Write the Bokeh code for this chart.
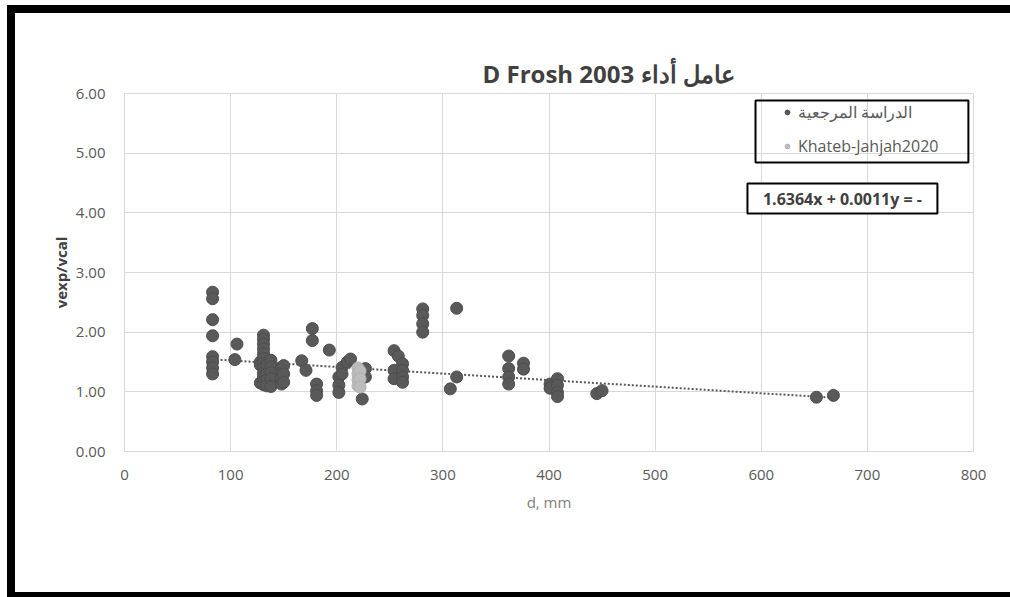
from bokeh.plotting import figure
from bokeh.models import (BoxAnnotation, Label, NumeralTickFormatter,
                          SingleIntervalTicker, Range1d, Title)
from bokeh.embed import file_html
from bokeh.resources import INLINE

# Reference study (dark points): diameter d [mm] and ratio vexp/vcal
ref_d = [83, 83, 83, 83, 83, 83, 83, 83,
         104, 106,
         128, 128, 128,
         131, 131, 131, 131, 131, 131, 131, 131, 131, 131, 131, 131,
         134, 134, 134, 134,
         138, 138, 138, 138, 138,
         148, 148, 148, 148,
         150, 150, 150,
         167, 171,
         177, 177,
         181, 181, 181,
         193,
         202, 202, 202,
         205, 205, 210, 213,
         224, 227, 227,
         254, 254, 254, 258,
         262, 262, 262, 262,
         281, 281, 281, 281,
         307, 313, 313,
         362, 362, 362, 362,
         376, 376,
         401, 401,
         408, 408, 408, 408,
         445, 450,
         652, 668]
ref_ratio = [2.67, 2.56, 2.21, 1.94, 1.59, 1.50, 1.40, 1.30,
             1.54, 1.80,
             1.50, 1.45, 1.15,
             1.95, 1.88, 1.80, 1.72, 1.64, 1.56, 1.48, 1.40, 1.32, 1.25, 1.18, 1.12,
             1.45, 1.30, 1.20, 1.10,
             1.53, 1.42, 1.32, 1.22, 1.09,
             1.41, 1.30, 1.22, 1.13,
             1.44, 1.30, 1.16,
             1.52, 1.36,
             2.06, 1.86,
             1.13, 1.02, 0.94,
             1.70,
             1.25, 1.11, 0.99,
             1.41, 1.30, 1.50, 1.55,
             0.88, 1.39, 1.25,
             1.69, 1.36, 1.22, 1.60,
             1.47, 1.36, 1.25, 1.16,
             2.39, 2.28, 2.14, 2.00,
             1.05, 2.40, 1.25,
             1.60, 1.39, 1.25, 1.13,
             1.48, 1.38,
             1.13, 1.06,
             1.22, 1.11, 0.99, 0.92,
             0.97, 1.02,
             0.91, 0.94]

# Khateb-Jahjah 2020 (light points)
kj_d = [220, 220, 220, 220, 222, 222, 222]
kj_ratio = [1.40, 1.30, 1.20, 1.10, 1.35, 1.22, 1.08]

# Linear trend of the reference study: y = -0.0011 x + 1.6364
trend_slope = -0.0011
trend_intercept = 1.6364

title_text = "D Frosh 2003 عامل أداء"
ref_label = "الدراسة المرجعية"
kj_label = "Khateb-Jahjah2020"
equation_text = "1.6364x + 0.0011y = -"

DARK = "#595959"
LIGHT = "#bdbdbd"
GRID = "#d9d9d9"
FONT = "Open Sans"

p = figure(width=995, height=579,
           x_range=Range1d(0, 800), y_range=Range1d(0, 6),
           output_backend="svg", toolbar_location=None,
           min_border_left=109, min_border_right=45,
           min_border_top=80, min_border_bottom=157,
           background_fill_color="white", border_fill_color="white")
p.outline_line_color = GRID

# Thick black page edges on the top, left and bottom sides, outside the canvas
p.styles = {"box-sizing": "content-box",
            "margin-left": "7px", "margin-top": "5px",
            "border-top": "8px solid black",
            "border-left": "8px solid black",
            "border-bottom": "8px solid black"}

# Title, shifted toward the right like a spreadsheet chart title
p.add_layout(Title(text=title_text, align="left", offset=358, standoff=8,
                   text_font=FONT, text_font_size="24px",
                   text_font_style="bold", text_color="#404040"), "above")

# Axes
p.xaxis.ticker = SingleIntervalTicker(interval=100)
p.yaxis.ticker = SingleIntervalTicker(interval=1)
p.yaxis.formatter = NumeralTickFormatter(format="0.00")
for ax in (p.xaxis[0], p.yaxis[0]):
    ax.axis_line_color = GRID
    ax.major_tick_line_color = None
    ax.minor_tick_line_color = None
    ax.major_tick_out = 0
    ax.major_label_text_font = FONT
    ax.major_label_text_font_size = "15px"
    ax.major_label_text_color = DARK
p.xaxis.major_label_standoff = 14
p.yaxis.major_label_standoff = 15
p.xaxis.axis_label = "d, mm"
p.xaxis.axis_label_text_font = FONT
p.xaxis.axis_label_text_font_size = "15px"
p.xaxis.axis_label_text_font_style = "normal"
p.xaxis.axis_label_text_color = "#7f7f7f"
p.xaxis.axis_label_standoff = 9
p.yaxis.axis_label = "vexp/vcal"
p.yaxis.axis_label_text_font = FONT
p.yaxis.axis_label_text_font_size = "15px"
p.yaxis.axis_label_text_font_style = "bold"
p.yaxis.axis_label_text_color = "#404040"
p.yaxis.axis_label_standoff = 2

p.xgrid.grid_line_color = GRID
p.ygrid.grid_line_color = GRID

# Trend line across the reference data range
x0, x1 = min(ref_d), max(ref_d)
p.line([x0, x1], [trend_slope * x0 + trend_intercept, trend_slope * x1 + trend_intercept],
       line_color=DARK, line_width=2, line_dash="2 2")

p.scatter(ref_d, ref_ratio, size=12, fill_color=DARK, line_color="#4d4d4d",
          legend_label=ref_label)
p.scatter(kj_d, kj_ratio, size=12, fill_color=LIGHT, line_color="#b0b0b0",
          legend_label=kj_label)

# Legend entries, with a separate black frame around them
lg = p.legend[0]
lg.location = (657, 294)
lg.border_line_alpha = 0
lg.background_fill_alpha = 0
lg.padding = 0
lg.margin = 0
lg.spacing = 12
lg.glyph_width = 12
lg.glyph_height = 20
lg.label_height = 20
lg.label_standoff = 5
lg.label_text_font = FONT
lg.label_text_font_size = "16px"
lg.label_text_color = DARK

p.add_layout(BoxAnnotation(left=594.6, right=795.2, bottom=4.843, top=5.882,
                           fill_alpha=0, line_color="black", line_alpha=1,
                           line_width=2))

# Equation box
p.add_layout(BoxAnnotation(left=587.0, right=766.0, bottom=3.989, top=4.491,
                           fill_color="white", fill_alpha=1,
                           line_color="black", line_alpha=1, line_width=2))
p.add_layout(Label(x=676.5, y=4.24, text=equation_text,
                   text_align="center", text_baseline="middle",
                   text_font=FONT, text_font_size="16px",
                   text_font_style="bold", text_color="#404040"))

open("out.html", "w").write(file_html(p, INLINE))
